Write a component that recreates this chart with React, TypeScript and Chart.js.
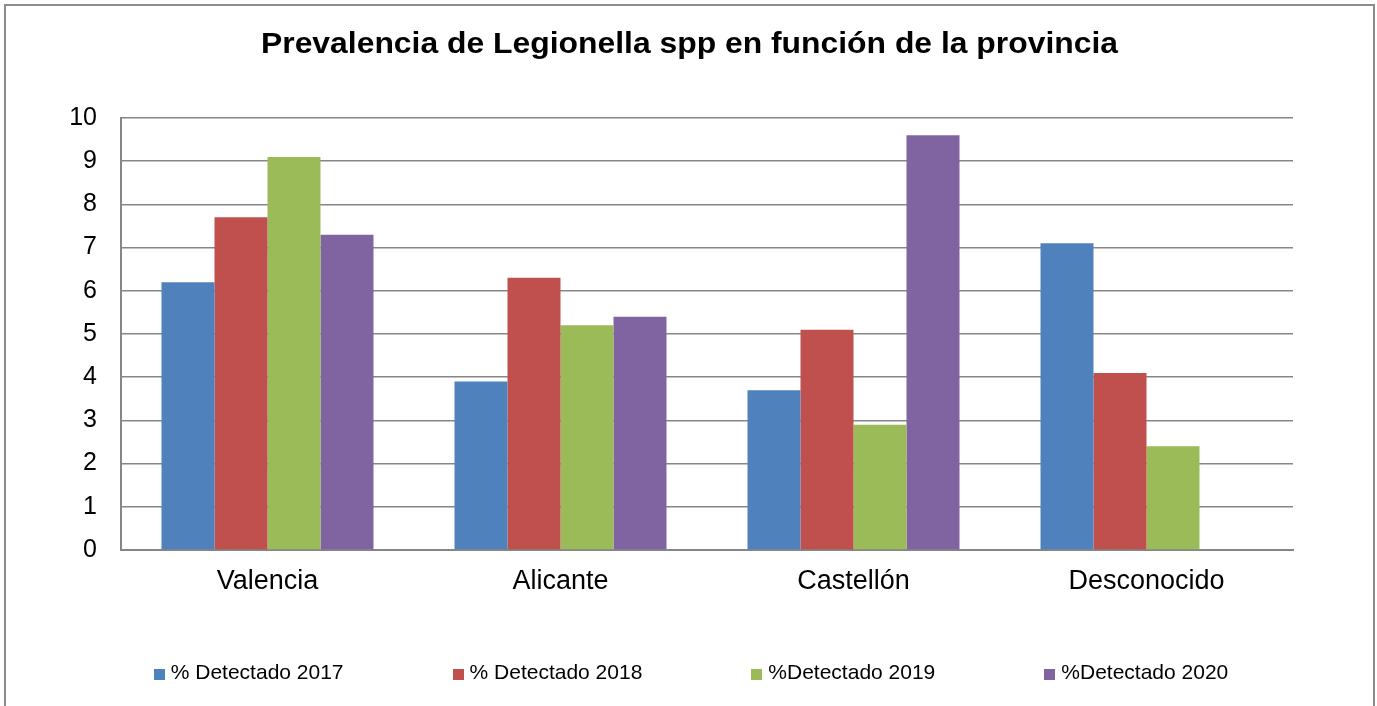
import React, { useEffect, useRef } from "react";
import { Chart, registerables } from "chart.js";

Chart.register(...registerables);

const TITLE = "Prevalencia de Legionella spp en función de la provincia";
const categories = ["Valencia", "Alicante", "Castellón", "Desconocido"];
const seriesLabels = ["% Detectado 2017", "% Detectado 2018", "%Detectado 2019", "%Detectado 2020"];
const d2017 = [6.2, 3.9, 3.7, 7.1];
const d2018 = [7.7, 6.3, 5.1, 4.1];
const d2019 = [9.1, 5.2, 2.9, 2.4];
const d2020 = [7.3, 5.4, 9.6, 0];
const colors = ["#4F81BD", "#C0504D", "#9BBB59", "#8064A2"];
const yTicks = [0, 1, 2, 3, 4, 5, 6, 7, 8, 9, 10];

const FONT = '"Liberation Sans", Arial, sans-serif';
const GRID = "#868686";

const titlePlugin = {
  id: "stretchedTitle",
  afterDraw(chart: any) {
    const ctx = chart.ctx;
    ctx.save();
    ctx.font = `bold 29px ${FONT}`;
    ctx.fillStyle = "#000";
    ctx.textAlign = "center";
    ctx.textBaseline = "middle";
    const w = ctx.measureText(TITLE).width;
    const sx = 857 / w;
    ctx.translate(chart.width / 2, 39);
    ctx.scale(sx, 1);
    ctx.fillText(TITLE, 0, 0);
    ctx.restore();
  },
};

const legendPlugin = {
  id: "customLegend",
  afterDraw(chart: any) {
    const ctx = chart.ctx;
    ctx.save();
    ctx.font = `21px ${FONT}`;
    ctx.textBaseline = "middle";
    ctx.textAlign = "left";
    const box = 11;
    const gap = 6;
    const spacing = 109;
    const items = chart.data.datasets.map((ds: any) => ({
      label: ds.label,
      color: ds.backgroundColor,
      w: box + gap + ctx.measureText(ds.label).width,
    }));
    const total = items.reduce((s: number, it: any) => s + it.w, 0) + spacing * (items.length - 1);
    let x = 685 - total / 2;
    const y = 667;
    for (const it of items) {
      ctx.fillStyle = it.color;
      ctx.fillRect(Math.round(x), y - 4, box, box);
      ctx.fillStyle = "#000";
      ctx.fillText(it.label, x + box + gap, y);
      x += it.w + spacing;
    }
    ctx.restore();
  },
};

export default function App() {
  const ref = useRef<HTMLCanvasElement | null>(null);

  useEffect(() => {
    if (!ref.current) return;
    const allData = [d2017, d2018, d2019, d2020];
    const chart = new Chart(ref.current, {
      type: "bar",
      data: {
        labels: categories,
        datasets: seriesLabels.map((label, i) => ({
          label,
          data: allData[i],
          backgroundColor: colors[i],
          borderWidth: 0,
          categoryPercentage: 0.7235,
          barPercentage: 1,
        })),
      },
      options: {
        animation: false,
        responsive: true,
        maintainAspectRatio: false,
        layout: { padding: { top: 112, right: 80, bottom: 0, left: 0 } },
        plugins: {
          legend: { display: false },
          title: { display: false },
          tooltip: { enabled: false },
        },
        scales: {
          x: {
            grid: { display: false, drawTicks: false },
            border: { display: true, color: GRID, width: 2 },
            ticks: { color: "#000", font: { family: FONT, size: 27 }, padding: 15 },
            afterFit(scale: any) {
              scale.height = 156;
            },
          },
          y: {
            min: 0,
            max: 10,
            afterBuildTicks(scale: any) {
              scale.ticks = yTicks.map((v) => ({ value: v }));
            },
            grid: { color: GRID, lineWidth: 1.5, drawTicks: false },
            border: { display: true, color: GRID, width: 2 },
            ticks: { color: "#000", font: { family: FONT, size: 25 }, padding: 24 },
            afterFit(scale: any) {
              scale.width = 115;
            },
          },
        },
      },
      plugins: [titlePlugin, legendPlugin],
    });
    return () => chart.destroy();
  }, []);

  return (
    <div style={{ position: "fixed", inset: 0, overflow: "hidden", background: "#fff" }}>
      <div
        style={{
          position: "absolute",
          left: 4,
          top: 4,
          width: 1371,
          height: 760,
          boxSizing: "border-box",
          border: "2px solid #8c8c8c",
          background: "#fff",
        }}
      >
        <div style={{ position: "relative", width: 1367, height: 700 }}>
          <canvas ref={ref} />
        </div>
      </div>
    </div>
  );
}
